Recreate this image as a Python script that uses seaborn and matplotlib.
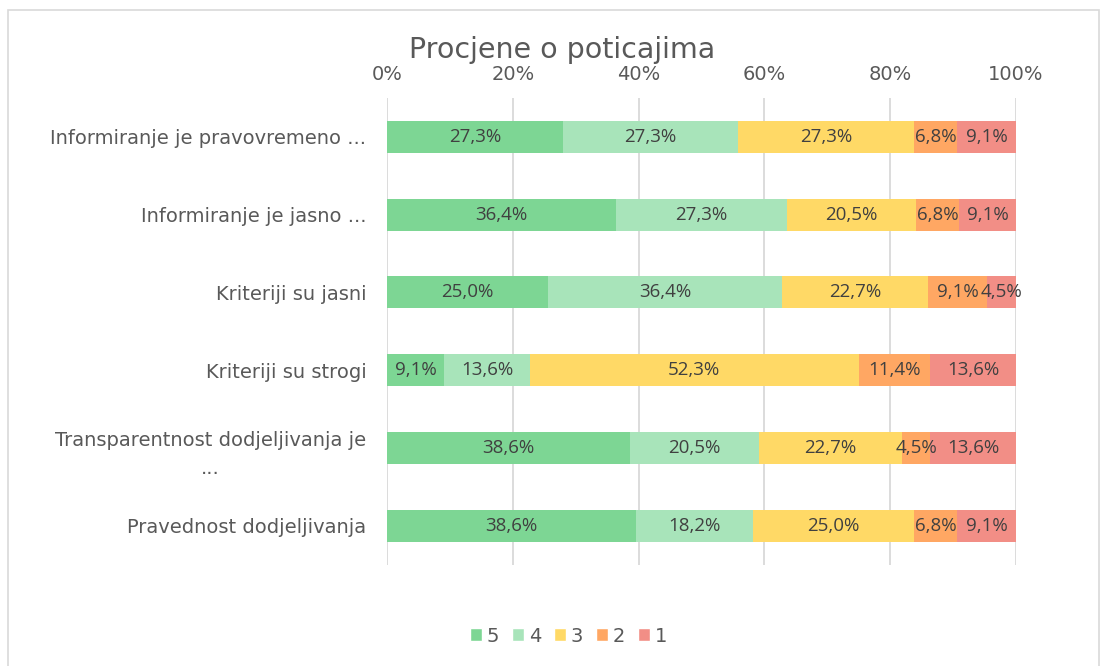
import matplotlib
matplotlib.use("Agg")
import matplotlib.pyplot as plt
from matplotlib.patches import Rectangle, Patch
import numpy as np
import pandas as pd
import seaborn as sns

# data (percent of answers per grade)
pitanja = ['Informiranje je pravovremeno ...', 'Informiranje je jasno ...',
           'Kriteriji su jasni', 'Kriteriji su strogi',
           'Transparentnost dodjeljivanja je\n...', 'Pravednost dodjeljivanja']
ocjene = ['5', '4', '3', '2', '1']
ocjena_5 = [27.3, 36.4, 25.0, 9.1, 38.6, 38.6]
ocjena_4 = [27.3, 27.3, 36.4, 13.6, 20.5, 18.2]
ocjena_3 = [27.3, 20.5, 22.7, 52.3, 22.7, 25.0]
ocjena_2 = [6.8, 6.8, 9.1, 11.4, 4.5, 6.8]
ocjena_1 = [9.1, 9.1, 4.5, 13.6, 13.6, 9.1]
boje = ['#7DD694', '#A8E4BA', '#FFD966', '#FFA763', '#F28E86']

vrijednosti = np.array([ocjena_5, ocjena_4, ocjena_3, ocjena_2, ocjena_1])
# 100% stacked: normalise every row
udio = vrijednosti / vrijednosti.sum(axis=0)
kum = np.cumsum(udio, axis=0)

sns.set_style("white")
plt.rcParams['font.family'] = ['DejaVu Sans']
siva = '#595959'

fig = plt.figure(figsize=(11.06, 6.66), dpi=100)
ax = fig.add_axes([0.35, 0.152, 0.5686, 0.701])

# draw from the widest cumulative bar down so the layers stack
for i in range(len(ocjene) - 1, -1, -1):
    df = pd.DataFrame({'pitanje': pitanja, 'x': kum[i]})
    sns.barplot(data=df, x='x', y='pitanje', color=boje[i], saturation=1,
                width=0.41, ax=ax, zorder=3, edgecolor='none')

# labels in the middle of each segment
for i in range(len(ocjene)):
    start = kum[i] - udio[i]
    for j in range(len(pitanja)):
        ax.text(start[j] + udio[i][j] / 2, j, f"{vrijednosti[i][j]:.1f}%".replace('.', ','),
                ha='center', va='center', fontsize=13.5, color='#404040', zorder=5,
                family=['Open Sans', 'DejaVu Sans'])

ax.set_xlim(0, 1)
ax.set_ylim(5.5, -0.5)
ax.set_xticks(np.linspace(0, 1, 6))
ax.set_xticklabels([f"{int(t)}%" for t in np.linspace(0, 100, 6)])
ax.xaxis.tick_top()
ax.tick_params(axis='x', length=0, pad=10, labelsize=14, labelcolor=siva)
ax.tick_params(axis='y', length=0, pad=15, labelsize=14, labelcolor=siva)
ax.set_xlabel('')
ax.set_ylabel('')
for lab in ax.get_yticklabels():
    lab.set_multialignment('center')
    lab.set_linespacing(1.6)
ax.grid(axis='x', color='#D9D9D9', linewidth=1.3, zorder=0)
ax.grid(axis='y', visible=False)
for s in ax.spines.values():
    s.set_visible(False)

fig.text(0.508, 0.925, 'Procjene o poticajima', ha='center', va='center',
         fontsize=20.5, color=siva)

handles = [Patch(facecolor=boje[i], label=ocjene[i]) for i in range(len(ocjene))]
fig.legend(handles=handles, loc='center', bbox_to_anchor=(0.514, 0.045), ncol=5,
           frameon=False, fontsize=14, handlelength=0.62, handleheight=0.62,
           handletextpad=0.25, columnspacing=0.65, labelcolor=siva)

fig.patches.append(Rectangle((0.007, -0.01), 0.987, 0.995, transform=fig.transFigure,
                             fill=False, edgecolor='#D9D9D9', linewidth=1.2))

fig.savefig('out.png', dpi=100)
